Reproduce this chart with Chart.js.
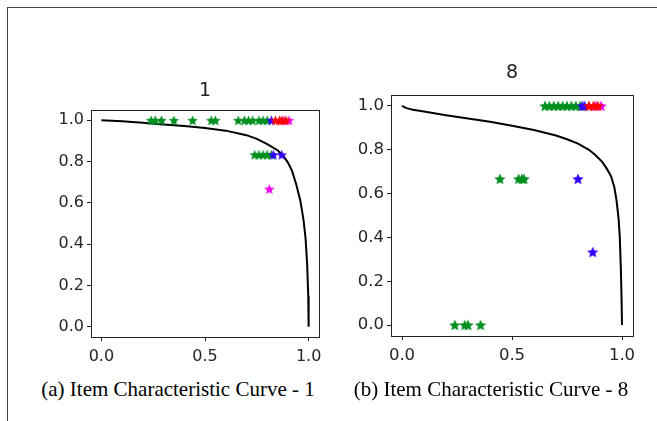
<!DOCTYPE html>
<html>
<head>
<meta charset="utf-8">
<script src="https://cdn.jsdelivr.net/npm/chart.js@4.4.1/dist/chart.umd.min.js"></script>
<style>
  html, body { margin: 0; padding: 0; background: #fff; width: 657px; height: 421px; overflow: hidden; }
  .frame { position: absolute; left: 7px; top: 7px; width: 700px; height: 500px;
           border-top: 1px solid #444; border-left: 1px solid #444; }
  canvas { position: absolute; }
  .caption { position: absolute; top: 377px; font-family: 'Liberation Serif', 'Times New Roman', serif;
             font-size: 21px; line-height: 24px; color: #000; white-space: nowrap; transform: translateX(-50%); }
</style>
</head>
<body>
<div class="frame"></div>
<canvas id="icc1" width="330" height="310" style="left:40px; top:60px;"></canvas>
<canvas id="icc8" width="322" height="330" style="left:335px; top:40px;"></canvas>
<div class="caption" style="left:178px;">(a) Item Characteristic Curve - 1</div>
<div class="caption" style="left:491px;">(b) Item Characteristic Curve - 8</div>

<script>
// axis ticks shared by both panels
const xTicks = [0, 0.5, 1.0];
const yTicks = [0, 0.2, 0.4, 0.6, 0.8, 1.0];

// item 1: characteristic curve
const icc1CurveX = [0, 0.1, 0.2, 0.3, 0.4, 0.5, 0.6, 0.7, 0.75, 0.8, 0.85, 0.88, 0.9, 0.92, 0.94, 0.96, 0.975, 0.985, 0.993, 0.998, 1.0];
const icc1CurveY = [1.0, 0.995, 0.988, 0.98, 0.972, 0.963, 0.95, 0.928, 0.91, 0.885, 0.855, 0.825, 0.795, 0.755, 0.69, 0.61, 0.52, 0.43, 0.3, 0.15, 0.0];
// item 1: observed points [x, y]
const icc1Green = [[0.24, 1], [0.26, 1], [0.29, 1], [0.35, 1], [0.44, 1], [0.53, 1], [0.55, 1],
                   [0.66, 1], [0.69, 1], [0.71, 1], [0.73, 1], [0.76, 1], [0.78, 1], [0.80, 1],
                   [0.74, 0.833], [0.76, 0.833], [0.78, 0.833], [0.80, 0.833], [0.82, 0.833]];
const icc1Blue = [[0.82, 1], [0.83, 0.833], [0.87, 0.833]];
const icc1Magenta = [[0.88, 1], [0.905, 1], [0.81, 0.667]];
const icc1Red = [[0.84, 1], [0.86, 1], [0.87, 1], [0.89, 1]];

// item 8: characteristic curve
const icc8CurveX = [0, 0.02, 0.05, 0.1, 0.2, 0.3, 0.4, 0.5, 0.6, 0.7, 0.75, 0.8, 0.85, 0.88, 0.91, 0.93, 0.95, 0.965, 0.975, 0.985, 0.99, 0.995, 0.998, 1.0];
const icc8CurveY = [1.0, 0.99, 0.983, 0.975, 0.958, 0.943, 0.928, 0.91, 0.89, 0.865, 0.848, 0.828, 0.8, 0.775, 0.745, 0.715, 0.68, 0.63, 0.57, 0.48, 0.4, 0.25, 0.12, 0.0];
// item 8: observed points [x, y]
const icc8Green = [[0.65, 1], [0.67, 1], [0.69, 1], [0.71, 1], [0.73, 1], [0.75, 1], [0.77, 1], [0.79, 1], [0.81, 1],
                   [0.445, 0.667], [0.53, 0.667], [0.545, 0.667], [0.555, 0.667],
                   [0.24, 0], [0.285, 0], [0.30, 0], [0.357, 0]];
const icc8Blue = [[0.82, 1], [0.83, 1], [0.80, 0.667], [0.867, 0.333]];
const icc8Magenta = [[0.88, 1], [0.905, 1]];
const icc8Red = [[0.85, 1], [0.87, 1], [0.89, 1]];

// filled five-point star like matplotlib's '*' marker
function starImage(color, size) {
  const c = document.createElement('canvas');
  c.width = size; c.height = size;
  const g = c.getContext('2d');
  const R = size / 2, r = R * 0.45, cx = size / 2, cy = size / 2 + R * 0.08;
  g.beginPath();
  for (let i = 0; i < 10; i++) {
    const a = -Math.PI / 2 + i * Math.PI / 5;
    const rad = i % 2 ? r : R;
    g.lineTo(cx + rad * Math.cos(a), cy + rad * Math.sin(a));
  }
  g.closePath();
  g.fillStyle = color;
  g.fill();
  return c;
}

const boxPlugin = {
  id: 'box',
  afterDatasetsDraw(chart) {
    const { ctx, chartArea: a } = chart;
    ctx.save();
    ctx.strokeStyle = '#222';
    ctx.lineWidth = 1;
    ctx.strokeRect(Math.round(a.left) + 0.5, Math.round(a.top) + 0.5, Math.round(a.right - a.left), Math.round(a.bottom - a.top));
    ctx.restore();
  }
};

function pts(list) {
  return list.map(p => ({ x: p[0], y: p[1] }));
}

function makeChart(id, opts) {
  const curve = opts.curveX.map((x, i) => ({ x: x, y: opts.curveY[i] }));
  const s = opts.starSize;
  const tickFont = { family: "'DejaVu Sans', sans-serif", size: opts.tickSize };
  return new Chart(document.getElementById(id), {
    type: 'scatter',
    data: {
      datasets: [
        { data: pts(opts.red), pointStyle: starImage('#ff0000', s), order: 1 },
        { data: pts(opts.magenta), pointStyle: starImage('#ee00ee', s), order: 2 },
        { data: pts(opts.blue), pointStyle: starImage('#3300ff', s), order: 3 },
        { data: pts(opts.green), pointStyle: starImage('#009020', s), order: 4 },
        { data: curve, showLine: true, borderColor: '#000', borderWidth: 2, pointRadius: 0, tension: 0, order: 10 }
      ]
    },
    options: {
      responsive: false,
      animation: false,
      devicePixelRatio: 1,
      layout: { padding: { left: 0, right: opts.padRight, top: 0, bottom: 0 } },
      plugins: {
        legend: { display: false },
        tooltip: { enabled: false },
        title: {
          display: true,
          text: opts.title,
          fullSize: false,
          color: '#222',
          font: { family: "'DejaVu Sans', sans-serif", size: 19, weight: 'normal' },
          padding: { top: opts.titleTop, bottom: opts.titleBottom }
        }
      },
      scales: {
        x: {
          type: 'linear',
          min: -0.05,
          max: 1.05,
          afterBuildTicks: axis => { axis.ticks = xTicks.map(v => ({ value: v })); },
          afterFit: axis => { axis.height = opts.xHeight; },
          border: { display: false },
          grid: { drawOnChartArea: false, drawTicks: true, tickLength: 4, color: '#222' },
          ticks: { color: '#262626', font: tickFont, padding: 6, maxRotation: 0, callback: v => v.toFixed(1) }
        },
        y: {
          type: 'linear',
          min: -0.05,
          max: 1.05,
          afterBuildTicks: axis => { axis.ticks = yTicks.map(v => ({ value: v })); },
          afterFit: axis => { axis.width = opts.yWidth; },
          border: { display: false },
          grid: { drawOnChartArea: false, drawTicks: true, tickLength: 4, color: '#222' },
          ticks: { color: '#262626', font: tickFont, padding: 3, callback: v => v.toFixed(1) }
        }
      }
    },
    plugins: [boxPlugin]
  });
}

makeChart('icc1', {
  title: '1', curveX: icc1CurveX, curveY: icc1CurveY,
  green: icc1Green, blue: icc1Blue, magenta: icc1Magenta, red: icc1Red,
  starSize: 11, tickSize: 16, padRight: 51, yWidth: 51, xHeight: 33,
  titleTop: 19.6, titleBottom: 7.6
});

makeChart('icc8', {
  title: '8', curveX: icc8CurveX, curveY: icc8CurveY,
  green: icc8Green, blue: icc8Blue, magenta: icc8Magenta, red: icc8Red,
  starSize: 12, tickSize: 16.5, padRight: 24, yWidth: 56, xHeight: 34,
  titleTop: 21.6, titleBottom: 10.6
});
</script>
</body>
</html>
